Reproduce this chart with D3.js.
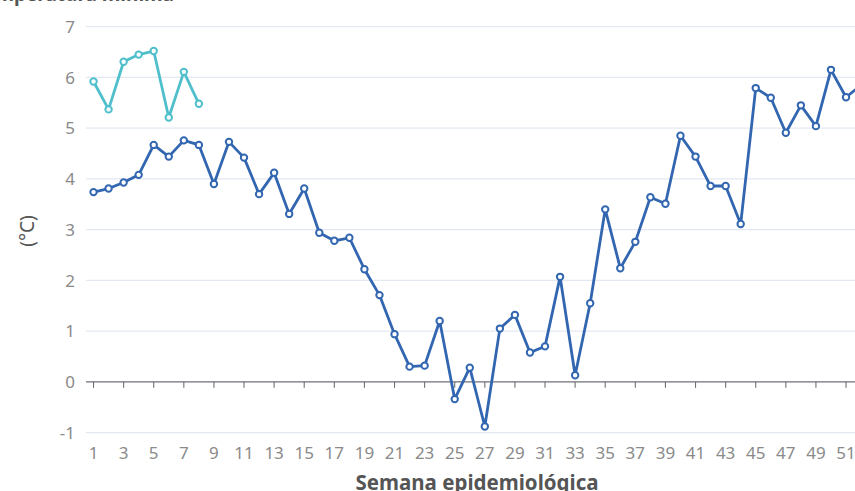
<!DOCTYPE html>
<html>
<head>
<meta charset="utf-8">
<script src="https://cdn.jsdelivr.net/npm/d3@7/dist/d3.min.js"></script>
<style>
  html, body { margin: 0; padding: 0; background: #fff; overflow: hidden; }
  svg { display: block; font-family: "Noto Sans", "Open Sans", sans-serif; }
</style>
</head>
<body>
<svg id="chart" width="855" height="491"></svg>
<script>
// ---- Data ----
const weeks = d3.range(1, 53);
const seriesMain = [3.74, 3.81, 3.93, 4.08, 4.67, 4.44, 4.76, 4.67, 3.90, 4.73,
  4.42, 3.70, 4.12, 3.31, 3.81, 2.94, 2.78, 2.84, 2.22, 1.71,
  0.94, 0.30, 0.32, 1.20, -0.34, 0.28, -0.88, 1.05, 1.32, 0.58,
  0.70, 2.07, 0.13, 1.55, 3.40, 2.24, 2.76, 3.64, 3.51, 4.85,
  4.44, 3.86, 3.86, 3.11, 5.79, 5.60, 4.91, 5.45, 5.04, 6.15,
  5.61, 5.85];
const seriesNew = [5.92, 5.37, 6.31, 6.45, 6.52, 5.21, 6.11, 5.48];
const yTicks = [-1, 0, 1, 2, 3, 4, 5, 6, 7];
const xTickWeeks = weeks.filter(w => w % 2 === 1);
const titleText = "Temperatura mínima";
const yTitle = "(°C)";
const xTitle = "Semana epidemiológica";

// ---- Layout ----
const svg = d3.select("#chart");
const left = 86, bandW = 15.05;
const x = d3.scaleBand().domain(weeks).range([left, left + weeks.length * bandW]).padding(0);
const y = d3.scaleLinear().domain([-1, 7]).range([432.6, 26.7]);
const xc = w => x(w) + x.bandwidth() / 2;
const gridRight = 870;

const colMain = "#3266b0";
const colNew = "#4fbfcb";
const axisCol = "#6E7079";
const labelCol = "#8a8a8a";

// gridlines
svg.append("g").selectAll("line").data(yTicks.filter(v => v !== 0)).join("line")
  .attr("x1", left).attr("x2", gridRight)
  .attr("y1", d => y(d)).attr("y2", d => y(d))
  .attr("stroke", "#E3E8F2").attr("stroke-width", 1.3);

// y labels
svg.append("g").selectAll("text").data(yTicks).join("text")
  .attr("x", 75).attr("y", d => y(d)).attr("dy", "0.36em")
  .attr("text-anchor", "end").attr("font-size", 17).attr("fill", labelCol)
  .text(d => d);

// zero axis line + ticks
svg.append("line").attr("x1", left).attr("x2", gridRight)
  .attr("y1", y(0)).attr("y2", y(0)).attr("stroke", axisCol).attr("stroke-width", 1.4);
svg.append("g").selectAll("line").data(xTickWeeks).join("line")
  .attr("x1", d => xc(d)).attr("x2", d => xc(d))
  .attr("y1", y(0)).attr("y2", y(0) + 6)
  .attr("stroke", axisCol).attr("stroke-width", 1.1);

// x labels
svg.append("g").selectAll("text").data(xTickWeeks).join("text")
  .attr("x", d => xc(d)).attr("y", 459)
  .attr("text-anchor", "middle").attr("font-size", 17).attr("fill", labelCol)
  .text(d => d);

// titles
svg.append("text").attr("x", 174).attr("y", 1).attr("text-anchor", "end")
  .attr("font-size", 19).attr("font-weight", "bold").attr("fill", "#555")
  .text(titleText);
svg.append("text").attr("transform", "translate(27,231) rotate(-90)")
  .attr("dy", "0.35em")
  .attr("text-anchor", "middle").attr("font-size", 19).attr("fill", "#555")
  .text(yTitle);
svg.append("text").attr("x", 477).attr("y", 490).attr("text-anchor", "middle")
  .attr("font-size", 20.5).attr("font-weight", "bold").attr("fill", "#555")
  .text(xTitle);

// series
function drawSeries(vals, color) {
  const data = vals.map((v, i) => ({ w: weeks[i], v }));
  const line = d3.line().x(d => xc(d.w)).y(d => y(d.v));
  svg.append("path").datum(data).attr("d", line)
    .attr("fill", "none").attr("stroke", color).attr("stroke-width", 2.8)
    .attr("stroke-linejoin", "round");
  svg.append("g").selectAll("circle").data(data).join("circle")
    .attr("cx", d => xc(d.w)).attr("cy", d => y(d.v)).attr("r", 3.2)
    .attr("fill", "#fff").attr("stroke", color).attr("stroke-width", 2);
}
drawSeries(seriesMain, colMain);
drawSeries(seriesNew, colNew);
</script>
</body>
</html>
